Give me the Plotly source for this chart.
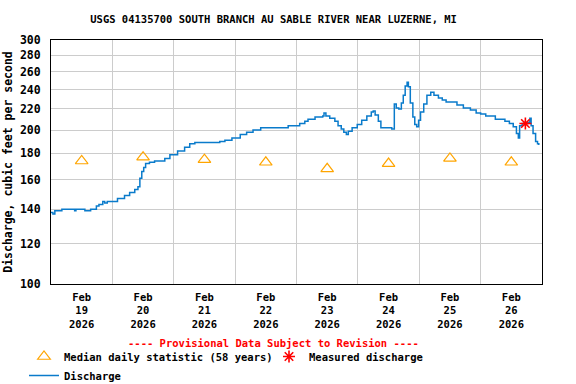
import plotly.graph_objects as go

title_text = "USGS 04135700 SOUTH BRANCH AU SABLE RIVER NEAR LUZERNE, MI"

discharge_times = [
    "2026-02-19 00:00", "2026-02-19 00:45", "2026-02-19 01:30", "2026-02-19 04:15",
    "2026-02-19 09:15", "2026-02-19 09:45", "2026-02-19 13:15", "2026-02-19 15:30",
    "2026-02-19 17:45", "2026-02-19 18:45", "2026-02-19 20:15", "2026-02-19 21:00",
    "2026-02-19 22:00", "2026-02-20 02:00", "2026-02-20 04:45", "2026-02-20 06:45",
    "2026-02-20 08:45", "2026-02-20 10:00", "2026-02-20 10:45", "2026-02-20 11:30",
    "2026-02-20 12:15", "2026-02-20 13:00", "2026-02-20 14:30", "2026-02-20 16:30",
    "2026-02-20 20:30", "2026-02-20 22:30", "2026-02-21 01:30", "2026-02-21 04:15",
    "2026-02-21 06:15", "2026-02-21 08:15", "2026-02-21 18:00", "2026-02-21 20:00",
    "2026-02-21 22:45", "2026-02-22 02:00", "2026-02-22 04:30", "2026-02-22 07:00",
    "2026-02-22 10:00", "2026-02-22 20:45", "2026-02-23 01:15", "2026-02-23 03:15",
    "2026-02-23 04:30", "2026-02-23 07:15", "2026-02-23 10:15", "2026-02-23 10:45",
    "2026-02-23 11:30", "2026-02-23 13:00", "2026-02-23 15:00", "2026-02-23 16:15",
    "2026-02-23 17:30", "2026-02-23 18:30", "2026-02-23 19:30", "2026-02-23 20:15",
    "2026-02-23 21:45", "2026-02-23 23:45", "2026-02-24 01:30", "2026-02-24 03:30",
    "2026-02-24 05:15", "2026-02-24 06:00", "2026-02-24 06:45", "2026-02-24 08:00",
    "2026-02-24 09:00", "2026-02-24 13:15", "2026-02-24 14:15", "2026-02-24 15:00",
    "2026-02-24 16:00", "2026-02-24 17:00", "2026-02-24 17:45", "2026-02-24 18:30",
    "2026-02-24 19:15", "2026-02-24 19:45", "2026-02-24 20:30", "2026-02-24 21:30",
    "2026-02-24 22:15", "2026-02-24 23:00", "2026-02-24 23:45", "2026-02-25 00:30",
    "2026-02-25 01:45", "2026-02-25 03:00", "2026-02-25 04:30", "2026-02-25 05:45",
    "2026-02-25 07:30", "2026-02-25 09:00", "2026-02-25 10:30", "2026-02-25 14:45",
    "2026-02-25 17:15", "2026-02-25 20:00", "2026-02-25 22:15", "2026-02-26 00:00",
    "2026-02-26 02:00", "2026-02-26 05:45", "2026-02-26 09:30", "2026-02-26 11:15",
    "2026-02-26 12:45", "2026-02-26 14:00", "2026-02-26 14:45", "2026-02-26 15:15",
    "2026-02-26 16:15", "2026-02-26 18:30", "2026-02-26 19:15", "2026-02-26 19:45",
    "2026-02-26 20:30", "2026-02-26 21:30", "2026-02-26 22:15", "2026-02-26 22:45",
]
discharge_values = [
    138, 137, 139, 140,
    139, 140, 139, 140,
    142, 143, 145, 144,
    145, 147, 149, 151,
    153, 155, 161, 166,
    169, 172, 173, 174,
    176, 179, 182, 185,
    188, 189, 190, 191,
    193, 196, 198, 200,
    202, 204, 206, 208,
    210, 212, 213, 216,
    213, 211, 208, 204,
    201, 198, 196, 199,
    202, 205, 209, 213,
    217, 218, 214, 208,
    202, 201, 225, 221,
    220, 226, 234, 244,
    248, 243, 226, 212,
    205, 203, 209, 217,
    225, 234, 237, 234,
    231, 229, 227, 224,
    221, 219, 216, 215,
    213, 210, 208, 206,
    203, 197, 193, 204,
    206, 207, 211, 204,
    197, 190, 188, 187,
]

median_times = ["2026-02-19 12:00", "2026-02-20 12:00", "2026-02-21 12:00", "2026-02-22 12:00",
                "2026-02-23 12:00", "2026-02-24 12:00", "2026-02-25 12:00", "2026-02-26 12:00"]
median_values = [174, 177, 175, 173, 168, 172, 176, 173]

measured_times = ["2026-02-26 17:30"]
measured_values = [206]

y_ticks = [100, 120, 140, 160, 180, 200, 220, 240, 260, 280, 300]
x_range = ["2026-02-19 00:00", "2026-02-27 00:00"]

FONT = "DejaVu Sans Mono"

fig = go.Figure()
fig.add_trace(go.Scatter(
    x=discharge_times, y=discharge_values, mode="lines", name="Discharge",
    line=dict(color="#0A7BCB", width=1.5, shape="hv"), legendrank=3,
))
fig.add_trace(go.Scatter(
    x=median_times, y=median_values, mode="markers",
    name="Median daily statistic (58 years)",
    marker=dict(symbol="triangle-up-open", size=11, color="#FFA500",
                line=dict(color="#FFA500", width=1.2)), legendrank=1,
))
fig.add_trace(go.Scatter(
    x=measured_times, y=measured_values, mode="markers", name="Measured discharge",
    marker=dict(symbol="asterisk-open", size=10, color="red",
                line=dict(color="red", width=1.6)), legendrank=2,
))

fig.update_layout(
    width=576, height=384,
    margin=dict(l=51, r=34, t=40, b=100, autoexpand=False),
    paper_bgcolor="white", plot_bgcolor="white",
    font=dict(family=FONT, size=11, color="black"),
    title=dict(text="<b>" + title_text + "</b>", x=0.475, xanchor="center",
               y=1 - 19 / 384, yanchor="middle", xref="container", yref="container",
               font=dict(family=FONT, size=10.5, color="black")),
    showlegend=True,
    legend=dict(orientation="h", xref="container", yref="container",
                x=24 / 576, xanchor="left", y=1 - 342 / 384, yanchor="top",
                font=dict(family=FONT, size=10.5, color="black", weight="bold"),
                entrywidth=200, traceorder="normal", bgcolor="rgba(0,0,0,0)",
                tracegroupgap=0, itemsizing="trace"),
    annotations=[dict(text="<b>---- Provisional Data Subject to Revision ----</b>",
                      xref="paper", yref="paper", x=0.453, y=(284 - 343) / 244.3,
                      xanchor="center", yanchor="middle", showarrow=False,
                      font=dict(family=FONT, size=10.5, color="red"))],
)

fig.update_xaxes(
    type="date", range=x_range, dtick=86400000, tick0="2026-02-19",
    ticklabelmode="period", tickformat="%b<br>%d<br>%Y",
    showgrid=True, gridcolor="#CCCCCC", gridwidth=1,
    showline=True, linecolor="black", linewidth=1, mirror=True,
    ticks="", ticklabelstandoff=3,
    tickfont=dict(family=FONT, size=10.5, color="black", weight="bold"),
    zeroline=False, fixedrange=True, automargin=False,
)
fig.update_yaxes(
    type="log", range=[2, 2.4771213], tickvals=y_ticks, ticktext=[str(v) for v in y_ticks],
    showgrid=True, gridcolor="#CCCCCC", gridwidth=1,
    showline=True, linecolor="black", linewidth=1, mirror=True,
    ticks="", ticklabelstandoff=7,
    tickfont=dict(family=FONT, size=11.5, color="black", weight="bold"),
    title=dict(text="<b>Discharge, cubic feet per second</b>", standoff=4,
               font=dict(family=FONT, size=11.5, color="black")),
    zeroline=False, fixedrange=True, automargin=False,
)

fig.write_html("out.html", config={"displayModeBar": False},
               post_script="document.body.style.margin='0';")
